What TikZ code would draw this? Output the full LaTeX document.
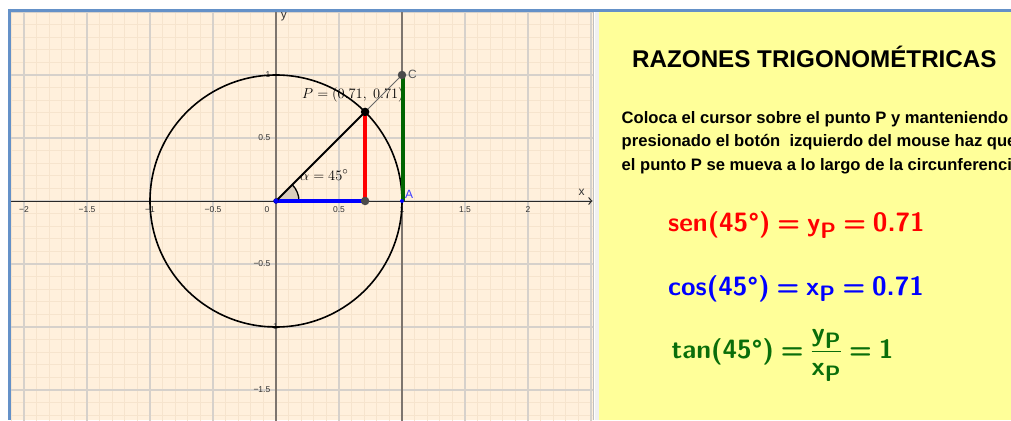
\documentclass[tikz,border=0pt]{standalone}
\usepackage{amsmath}
\usepackage{fontspec}
\newfontfamily\arial{Liberation Sans}
\usetikzlibrary{arrows.meta}
\definecolor{bgcream}{RGB}{255,240,220}
\definecolor{minorc}{RGB}{246,228,205}
\definecolor{majorc}{RGB}{214,209,203}
\definecolor{panelyel}{RGB}{255,255,153}
\definecolor{frameblue}{RGB}{100,145,200}
\definecolor{axgray}{RGB}{125,117,110}
\definecolor{axblack}{RGB}{40,40,40}
\definecolor{dkgreen}{RGB}{0,100,0}
\definecolor{txgreen}{RGB}{10,110,10}
\definecolor{wedgec}{RGB}{218,205,188}
\definecolor{ptgray}{RGB}{75,75,75}
\definecolor{labblue}{RGB}{60,60,255}
\newcommand\fs[1]{\textsf{\bfseries #1}}
\newcommand\feq{\mathrel{\fs{=}}}
\newcommand\subP{\fs{\scalebox{1.2}{P}}}
\tikzset{
  ticklab/.style={font=\arial\fontsize{8.5}{10}\selectfont, text=black!80, inner sep=0},
  axlab/.style={font=\arial\fontsize{12}{14}\selectfont, inner sep=0},
  bodytext/.style={anchor=base west, inner sep=0, font=\arial\bfseries\fontsize{16.6}{20}\selectfont},
  formula/.style={anchor=base west, inner sep=0, font=\fontsize{26.5}{30}\selectfont},
  dot/.style={circle, inner sep=0, minimum size=#1}
}
\begin{document}
\begin{tikzpicture}[x=1pt,y=1pt]
\useasboundingbox (0,0) rectangle (1011,-420);
\fill[white] (0,0) rectangle (1011,-420);
\fill[bgcream] (9.5,-10.5) rectangle (593,-420);
\fill[black!6] (594.5,-10.5) rectangle (599,-420);
\draw[black!25, line width=1.5pt] (593.5,-10.5) -- (593.5,-420);
\fill[panelyel] (599,-10.5) rectangle (1011,-420);
% graph
\begin{scope}
\clip (11,-12) rectangle (593,-420);
\begin{scope}[shift={(276,-201)}, x=126pt, y=126pt]
\draw[minorc, line width=1pt, step=0.1] (-2.2,-1.8) grid (2.6,1.6);
\draw[majorc, line width=1.3pt, step=0.5] (-2.5,-2) grid (2.6,1.6);
\coordinate (O) at (0,0);
\coordinate (P) at (0.7071,0.7071);
\coordinate (F) at (0.7071,0);
\coordinate (A) at (1,0);
\coordinate (C) at (1,1);
% axes
\draw[axgray, line width=1.3pt] (0,-1.8) -- (0,1.6);
\draw[axgray, line width=1.3pt] (1,-1.8) -- (1,1.6);
\draw[axblack, line width=1pt, -{Straight Barb[length=3pt,width=7pt]}] (-2.2,0) -- (2.51,0);
% tick labels
\foreach \v/\t in {-2/{−2},-1.5/{−1.5},-1/{−1},-0.5/{−0.5},0.5/{0.5},1/{1},1.5/{1.5},2/{2}}
  \node[ticklab] (xt\v) at ([yshift=-9pt]\v,0) {\t};
\node[ticklab] (xt0) at ([xshift=-9pt,yshift=-9pt]0,0) {0};
\foreach \v/\t in {1/{1},0.5/{0.5},-0.5/{−0.5},-1.5/{−1.5}}
  \node[ticklab, anchor=east] (yt\v) at ([xshift=-5.5pt]0,\v) {\t};
\node[ticklab, anchor=east] (ytm1) at ([xshift=2pt]0,-1) {−1};
\node[axlab, text=black!80] (xl) at (2.425,0.065) {x};
\node[axlab, text=black!80] (yl) at (0.063,1.465) {y};
% circle and wedge
\draw[black, line width=1.6pt] (O) circle (1);
\fill[wedgec] (O) -- (0.1825,0) arc (0:45:0.1825) -- cycle;
\draw[black, line width=1.3pt] (0.1825,0) arc (0:45:0.1825);
\end{scope}
\end{scope}
% labels on graph
\node[anchor=base west, inner sep=0, font=\fontsize{15}{18}\selectfont] (alab) at (300,-180) {$\alpha = 45^\circ$};
\node[anchor=base west, inner sep=0, font=\fontsize{15}{18}\selectfont] (plab) at (302,-98) {$P = (0.71,\; 0.71)$};
\begin{scope}[shift={(276,-201)}, x=126pt, y=126pt]
\draw[black!60, line width=0.8pt] (P) -- (C);
\draw[blue, line width=4.5pt] (O) -- (F);
\draw[red, line width=4pt] (F) -- (P);
\draw[dkgreen, line width=4.5pt] ([xshift=0.8pt]A) -- ([xshift=0.8pt]C);
\draw[black, line width=1.8pt] (O) -- (P);
\node[dot=5pt, fill=blue, draw=blue!60!black, line width=0.4pt] (Odot) at (O) {};
\node[dot=8.5pt, fill=ptgray] (Fdot) at (F) {};
\node[dot=8.5pt, fill=black] (Pdot) at (P) {};
\node[dot=8.5pt, fill=ptgray] (Cdot) at (C) {};
\node[dot=4pt, fill=blue] (Adot) at (A) {};
\node[axlab, text=labblue, anchor=base west] (Alab) at ([xshift=3pt,yshift=3pt]A) {A};
\node[axlab, text=black!65, anchor=west] (Clab) at ([xshift=6pt,yshift=1pt]C) {C};
\end{scope}
% blue frame
\draw[frameblue, line width=3pt] (8,-10.5) -- (1011,-10.5);
\draw[frameblue, line width=3pt] (9.5,-9) -- (9.5,-420);
% right panel
\begin{scope}
\clip (599,-12) rectangle (1011,-420);
\node[anchor=base west, inner sep=0, font=\arial\bfseries\fontsize{24.2}{28}\selectfont] (title) at (632,-67) {RAZONES TRIGONOMÉTRICAS};
\node[bodytext] (l1) at (621.5,-123.3) {Coloca el cursor sobre el punto P y manteniendo};
\node[bodytext] (l2) at (621.5,-146.8) {presionado el botón~ izquierdo del mouse haz que};
\node[bodytext] (l3) at (621.5,-170.6) {el punto P se mueva a lo largo de la circunferencia};
\node[formula, text=red] (sen) at (668,-231.7) {$\fs{sen(45°)} \feq \fs{y}_{\subP} \feq \fs{0.71}$};
\node[formula, text=blue] (cos) at (668,-295) {$\fs{cos(45°)} \feq \fs{x}_{\subP} \feq \fs{0.71}$};
\node[formula, text=txgreen] (tan) at (671.5,-358) {$\fs{tan(45°)} \feq \dfrac{\fs{y}_{\subP}}{\fs{x}_{\subP}} \feq \fs{1}$};
\end{scope}
\end{tikzpicture}
\end{document}
